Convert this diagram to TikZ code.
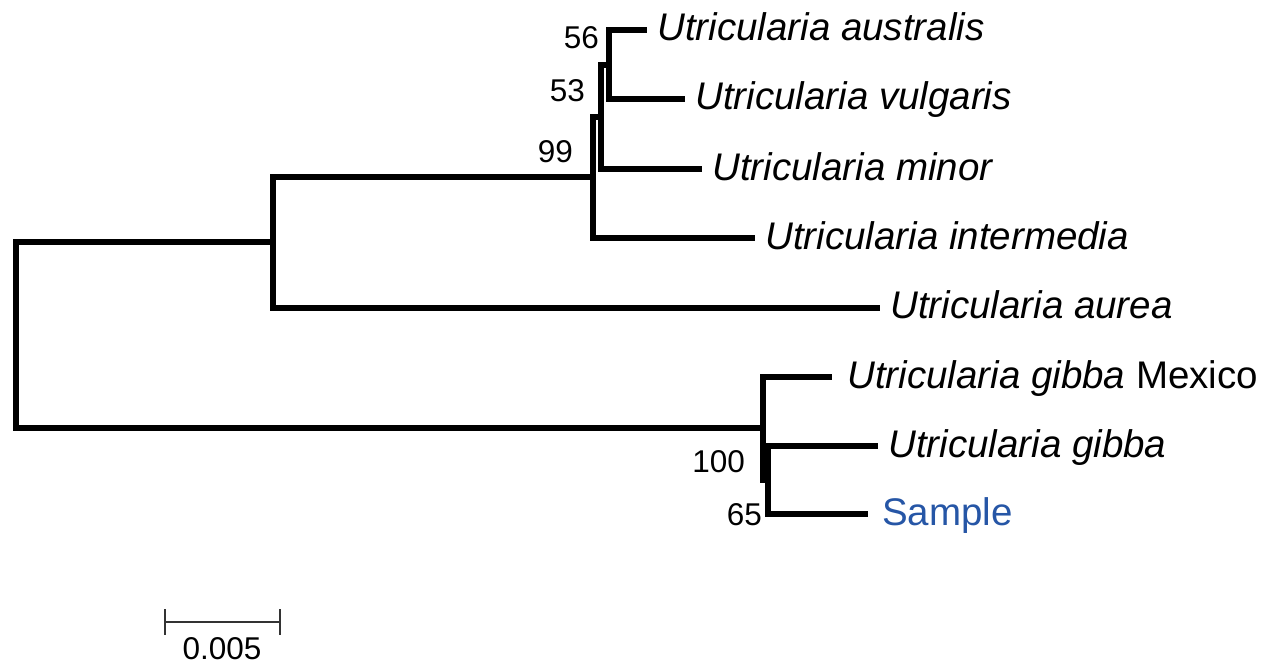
\documentclass[tikz,border=0pt]{standalone}
\usepackage{fontspec}
\setmainfont{Liberation Sans}
\definecolor{sampleblue}{RGB}{38,86,166}
\begin{document}
\begin{tikzpicture}[x=1pt,y=-1pt,
  branch/.style={line width=6pt, line join=miter, line cap=butt},
  taxon/.style={anchor=base west, inner sep=0pt, font=\fontsize{38.5}{40}\selectfont\itshape},
  support/.style={anchor=base east, inner sep=0pt, font=\fontsize{31.5}{33}\selectfont},
  scalebar/.style={line width=2.6pt, draw=black!80}]
\useasboundingbox (0,0) rectangle (1266,666);

% internal nodes of the tree
\coordinate (root) at (16,335);
\coordinate (nUp)  at (273,242);
\coordinate (n99)  at (593,177);
\coordinate (n53)  at (601,117);
\coordinate (n56)  at (609,65);
\coordinate (n100) at (763,428);
\coordinate (n65)  at (768,480);

% branch tips
\coordinate (tAus) at (647,30);
\coordinate (tVul) at (685,99);
\coordinate (tMin) at (702,169);
\coordinate (tInt) at (755,238);
\coordinate (tAur) at (880,308);
\coordinate (tMex) at (832,377);
\coordinate (tGib) at (878,446);
\coordinate (tSam) at (868,514);

% branches
\draw[branch] (root) |- (nUp);
\draw[branch] (root) |- (n100);
\draw[branch] (nUp) |- (n99);
\draw[branch] (nUp) |- (tAur);
\draw[branch] (n99) |- (n53);
\draw[branch] (n99) |- (tInt);
\draw[branch] (n53) |- (n56);
\draw[branch] (n53) |- (tMin);
\draw[branch] (n56) |- (tAus);
\draw[branch] (n56) |- (tVul);
\draw[branch] (n100) |- (tMex);
\draw[branch] (n100) |- (n65);
\draw[branch] (n65) |- (tGib);
\draw[branch] (n65) |- (tSam);

% taxon names
\node[taxon] (lAus) at ([shift={(10,11)}]tAus) {Utricularia australis};
\node[taxon] (lVul) at ([shift={(10,11)}]tVul) {Utricularia vulgaris};
\node[taxon] (lMin) at ([shift={(10,11)}]tMin) {Utricularia minor};
\node[taxon] (lInt) at ([shift={(10,11)}]tInt) {Utricularia intermedia};
\node[taxon] (lAur) at ([shift={(10,10)}]tAur) {Utricularia aurea};
\node[taxon] (lMex) at ([shift={(15,11)}]tMex) {Utricularia gibba \upshape Mexico};
\node[taxon] (lGib) at ([shift={(10,11)}]tGib) {Utricularia gibba};
\node[taxon, font=\fontsize{38.5}{40}\selectfont, text=sampleblue] (lSam) at ([shift={(14,11)}]tSam) {Sample};

% bootstrap support values
\node[support] (b56)  at (599,49)  {56};
\node[support] (b53)  at (585,102) {53};
\node[support] (b99)  at (573,163) {99};
\node[support] (b100) at (745,472) {100};
\node[support] (b65)  at (762,525) {65};

% scale bar
\coordinate (sL) at (165,622);
\coordinate (sR) at (280,622);
\draw[scalebar] (sL) -- (sR);
\draw[scalebar] ([yshift=13pt]sL) -- ([yshift=-13pt]sL);
\draw[scalebar] ([yshift=13pt]sR) -- ([yshift=-13pt]sR);
\node[support, anchor=base] (sLabel) at (222,659) {0.005};
\end{tikzpicture}
\end{document}
